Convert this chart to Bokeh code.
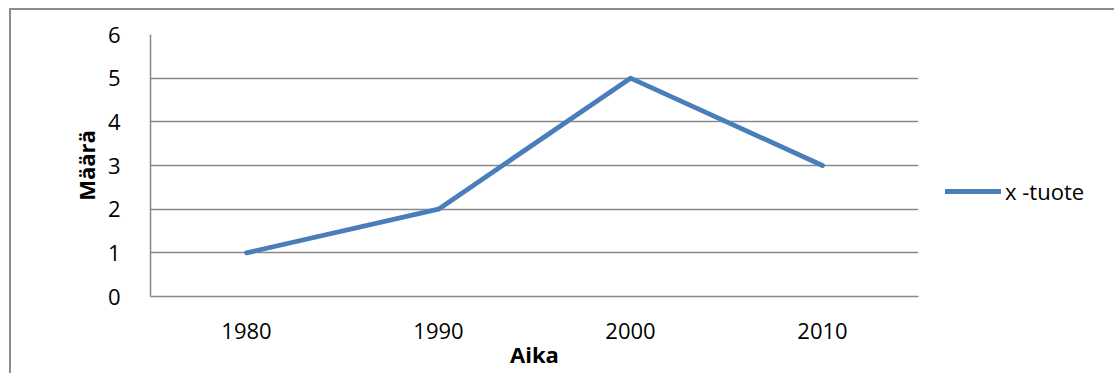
from bokeh.plotting import figure
from bokeh.models import FactorRange, Range1d, FixedTicker, Legend, LegendItem
from bokeh.embed import file_html
from bokeh.resources import INLINE

# data
years = ["1980", "1990", "2000", "2010"]
values = [1, 2, 5, 3]
y_ticks = [0, 1, 2, 3, 4, 5, 6]
series_name = "x -tuote"

FONT = "Open Sans"
GRID = "#898989"
BLUE = "#4A7EBB"

p = figure(
    frame_width=768, frame_height=262,
    x_range=FactorRange(*years, range_padding=0),
    y_range=Range1d(0, 6),
    output_backend="svg", toolbar_location=None,
    min_border_left=139, min_border_right=196,
    min_border_top=24, min_border_bottom=81,
    background_fill_color="white", border_fill_color="white",
)
p.styles = {
    "margin-left": "9px", "margin-top": "8px",
    "border-left": "2px solid #8c8c8c", "border-top": "2px solid #8c8c8c",
}
p.outline_line_color = None

line = p.line(years, values, line_color=BLUE, line_width=4.8,
              line_join="round", line_cap="round")

# axes
p.yaxis.ticker = FixedTicker(ticks=y_ticks)
for ax in (p.xaxis[0], p.yaxis[0]):
    ax.major_tick_line_color = None
    ax.minor_tick_line_color = None
    ax.axis_line_color = GRID
    ax.axis_line_width = 1.5
    ax.major_label_text_font = FONT
    ax.major_label_text_font_size = "22px"
    ax.major_label_text_color = "black"
    ax.axis_label_text_font = FONT
    ax.axis_label_text_font_size = "22px"
    ax.axis_label_text_font_style = "bold"
    ax.axis_label_text_color = "black"

p.xaxis.axis_label = "Aika"
p.xaxis.major_label_standoff = 20
p.xaxis.axis_label_standoff = -3
p.yaxis.axis_label = "Määrä"
p.yaxis.major_label_standoff = 24
p.yaxis.axis_label_standoff = 4

p.xgrid.grid_line_color = None
p.ygrid.grid_line_color = GRID
p.ygrid.grid_line_width = 1.5

# legend sits in the right-hand panel, beside the plot frame
legend = Legend(
    items=[LegendItem(label=series_name, renderers=[line])],
    location=(27, 90),
    border_line_color=None, background_fill_alpha=0,
    padding=0, margin=0, spacing=0,
    glyph_width=56, glyph_height=20, label_height=20,
    label_standoff=4, label_width=100,
    label_text_font=FONT, label_text_font_size="22px",
    label_text_color="black",
)
p.add_layout(legend, "right")

open("out.html", "w").write(file_html(p, INLINE))
